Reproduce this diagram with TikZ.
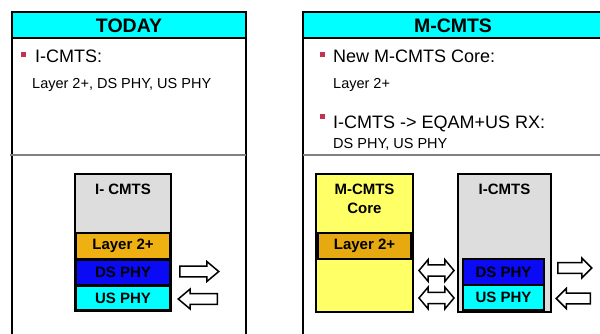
\documentclass[tikz,border=0pt]{standalone}
\usepackage{fontspec}
\setmainfont{Liberation Sans}
\usetikzlibrary{shapes.arrows}
\definecolor{hdrcyan}{HTML}{00FFFF}
\definecolor{boxgray}{HTML}{DDDDDD}
\definecolor{layerorange}{HTML}{EEB111}
\definecolor{layerorange2}{HTML}{E6AA10}
\definecolor{dsblue}{HTML}{0A0AF5}
\definecolor{usycyan}{HTML}{00FFFF}
\definecolor{coreyellow}{HTML}{FFFF66}
\definecolor{bulletred}{HTML}{C0344E}
\definecolor{divgray}{HTML}{808080}
\tikzset{
  panel/.style={draw=black, line width=2pt},
  hdr/.style={fill=hdrcyan, draw=black, line width=2pt},
  hdrtext/.style={font=\bfseries\fontsize{19.5}{20}\selectfont},
  bultext/.style={anchor=base west, inner sep=0pt, font=\fontsize{18}{20}\selectfont},
  subtext/.style={anchor=base west, inner sep=0pt, font=\fontsize{14.5}{16}\selectfont},
  bulletsq/.style={fill=bulletred},
  blk/.style={draw=black, line width=2pt},
  blktext/.style={font=\bfseries\fontsize{15}{17}\selectfont, inner sep=0pt},
  rarrow/.style={single arrow, draw=black, fill=white, line width=1.5pt,
     inner xsep=0pt, inner ysep=4.5pt,
     minimum height=39pt, minimum width=20pt, single arrow head extend=4.5pt, single arrow tip angle=80},
  darrow/.style={double arrow, draw=black, fill=white, line width=1.5pt,
     inner xsep=0pt, inner ysep=4.5pt,
     minimum height=35pt, minimum width=22pt, double arrow head extend=5pt, double arrow tip angle=100},
}
\begin{document}
\begin{tikzpicture}[x=1pt,y=-1pt]
\path[use as bounding box, clip] (0,0) rectangle (600,333);
\fill[white] (0,0) rectangle (600,333);

% ---------- left panel ----------
\draw[panel] (12,12) rectangle (246,345);
\draw[hdr] (12,12) rectangle (246,38);
\node[hdrtext] (todayhdr) at (129,26) {TODAY};
\draw[divgray, line width=1.2pt] (10,155) -- (246,155);
\fill[bulletsq] (21,51.5) rectangle (25.5,56.5);
\node[bultext] (licmts) at (35,62) {I-CMTS:};
\node[subtext] (lsub) at (32,88) {Layer 2+, DS PHY, US PHY};

\draw[blk, fill=boxgray] (75,174) rectangle (171,311);
\node[blktext, anchor=base] (licmtsbox) at (123,194) {I- CMTS};
\draw[blk, fill=layerorange] (76,233) rectangle (170,259);
\node[blktext] (ll2) at (123,246) {Layer 2+};
\draw[blk, fill=dsblue] (76,260) rectangle (170,285);
\node[blktext] (lds) at (123,272.5) {DS PHY};
\draw[blk, fill=usycyan] (76,286) rectangle (170,310);
\node[blktext] (lus) at (123,298) {US PHY};

\node[rarrow, anchor=tail] (la1) at (179,271.5) {};
\node[rarrow, shape border rotate=180, anchor=tail] (la2) at (218,299) {};

% ---------- right panel ----------
\draw[panel] (303,12) rectangle (604,345);
\draw[hdr] (303,12) rectangle (604,38);
\node[hdrtext] (mcmtshdr) at (453,26) {M-CMTS};
\draw[divgray, line width=1.2pt] (303,155) -- (604,155);
\fill[bulletsq] (320,51.5) rectangle (324.5,56.5);
\node[bultext] (rnew) at (333,62) {New M-CMTS Core:};
\node[subtext] (rl2) at (333,88) {Layer 2+};
\fill[bulletsq] (320,113.5) rectangle (324.5,118.5);
\node[bultext] (reqam) at (333,128) {I-CMTS -> EQAM+US RX:};
\node[subtext] (rphy) at (333,148) {DS PHY, US PHY};

\draw[blk, fill=coreyellow] (316,174) rectangle (413,312);
\node[blktext, anchor=base] (rcore1) at (364.5,194) {M-CMTS};
\node[blktext, anchor=base] (rcore2) at (364.5,213) {Core};
\draw[blk, fill=layerorange2] (318,233) rectangle (411,259);
\node[blktext] (rcl2) at (364.5,246) {Layer 2+};

\draw[blk, fill=boxgray] (458,174) rectangle (551,312);
\node[blktext, anchor=base] (ricmts) at (504.5,194) {I-CMTS};
\draw[blk, fill=dsblue] (463,259) rectangle (544,285);
\node[blktext] (rds) at (503.5,272) {DS PHY};
\draw[blk, fill=usycyan] (463,285) rectangle (544,310);
\node[blktext] (rus) at (503.5,297.5) {US PHY};

\node[darrow] (rd1) at (436.5,270.5) {};
\node[darrow] (rd2) at (436.5,298) {};
\node[rarrow, minimum height=34pt, single arrow tip angle=90, anchor=tail] (ra1) at (557,268) {};
\node[rarrow, minimum height=34pt, single arrow tip angle=90, shape border rotate=180, anchor=tail] (ra2) at (591,298.5) {};
\end{tikzpicture}
\end{document}
